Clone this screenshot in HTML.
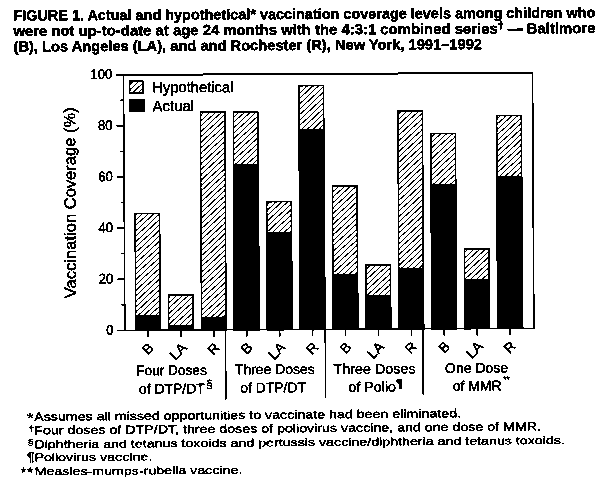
<!DOCTYPE html>
<html><head><meta charset="utf-8"><title>FIGURE 1</title>
<style>
html,body{margin:0;padding:0;background:#fff;}
body{width:615px;height:484px;overflow:hidden;}
svg{display:block;font-family:"Liberation Sans",Arial,Helvetica,sans-serif;fill:#000;}
text{stroke:#000;stroke-width:0.45px;}
.t{font-weight:bold;font-size:14.5px;stroke-width:0.5px;}
.f{font-size:11.6px;stroke-width:0.42px;}
.l{font-size:14px;}
.g{font-size:15px;}
.k{font-size:14px;}
</style></head><body>
<svg width="615" height="484" viewBox="0 0 615 484">
<defs>
<pattern id="h" width="5.8" height="5.4" patternUnits="userSpaceOnUse">
<rect width="5.8" height="5.4" fill="#fff"/>
<path d="M-1,6.331 L6.8,-0.931 M-1,0.931 L1,-0.931 M4.8,6.331 L6.8,4.469" stroke="#000" stroke-width="1.0" fill="none"/>
</pattern>
<filter id="bw" filterUnits="userSpaceOnUse" x="0" y="0" width="615" height="484" color-interpolation-filters="sRGB">
<feComponentTransfer><feFuncR type="discrete" tableValues="0 1"/><feFuncG type="discrete" tableValues="0 1"/><feFuncB type="discrete" tableValues="0 1"/></feComponentTransfer>
</filter>
</defs>
<g filter="url(#bw)">
<rect x="-10" y="-10" width="635" height="504" fill="#fff"/>
<g transform="rotate(-0.3 307.5 242)">
<text class="t" x="14.5" y="19.0" textLength="582" lengthAdjust="spacingAndGlyphs">FIGURE 1. Actual and hypothetical* vaccination coverage levels among children who</text>
<text class="t" x="14.5" y="34.55" textLength="582" lengthAdjust="spacingAndGlyphs">were not up-to-date at age 24 months with the 4:3:1 combined series<tspan style="font-size:10.5px" dy="-4.2">†</tspan><tspan dy="4.2"> — Baltimore</tspan></text>
<text class="t" x="14.5" y="50.05" textLength="468.5" lengthAdjust="spacingAndGlyphs">(B), Los Angeles (LA), and and Rochester (R), New York, 1991–1992</text>
<g stroke="#000" fill="none"><path d="M124.4,72.69999999999999 V329.4" stroke-width="1.5"/><path d="M116.9,74.0 H533.4" stroke-width="2.0"/><path d="M116.9,329.4 H534.3" stroke-width="1.3"/><path d="M533.4,73.6 V329.4" stroke-width="1.6"/><path d="M120.9,303.8 H124.4" stroke-width="1.3"/><path d="M116.9,278.2 H124.4" stroke-width="1.3"/><path d="M120.9,252.7 H124.4" stroke-width="1.3"/><path d="M116.9,227.1 H124.4" stroke-width="1.3"/><path d="M120.9,201.5 H124.4" stroke-width="1.3"/><path d="M116.9,175.9 H124.4" stroke-width="1.3"/><path d="M120.9,150.3 H124.4" stroke-width="1.3"/><path d="M116.9,124.8 H124.4" stroke-width="1.3"/><path d="M120.9,99.2 H124.4" stroke-width="1.3"/><path d="M147.5,329.4 v7.0" stroke-width="1.6"/><path d="M180.4,329.4 v7.0" stroke-width="1.6"/><path d="M213.3,329.4 v7.0" stroke-width="1.6"/><path d="M246.3,329.4 v7.0" stroke-width="1.6"/><path d="M279.2,329.4 v7.0" stroke-width="1.6"/><path d="M312.1,329.4 v7.0" stroke-width="1.6"/><path d="M345.0,329.4 v7.0" stroke-width="1.6"/><path d="M377.9,329.4 v7.0" stroke-width="1.6"/><path d="M410.9,329.4 v7.0" stroke-width="1.6"/><path d="M443.8,329.4 v7.0" stroke-width="1.6"/><path d="M476.7,329.4 v7.0" stroke-width="1.6"/><path d="M509.6,329.4 v7.0" stroke-width="1.6"/><path d="M225.0,329.4 V399.2" stroke-width="1.6"/><path d="M324.8,329.4 V398.4" stroke-width="1.6"/><path d="M422.5,329.4 V395.2" stroke-width="1.6"/></g>
<rect x="135.20" y="212.53" width="24.60" height="116.87" fill="url(#h)" stroke="#000" stroke-width="1.5"/><rect x="134.50" y="314.05" width="26.00" height="15.95" fill="#000"/>
<rect x="168.12" y="294.39" width="24.60" height="35.01" fill="url(#h)" stroke="#000" stroke-width="1.5"/><rect x="167.42" y="324.28" width="26.00" height="5.72" fill="#000"/>
<rect x="201.04" y="111.36" width="24.60" height="218.04" fill="url(#h)" stroke="#000" stroke-width="1.5"/><rect x="200.34" y="316.10" width="26.00" height="13.90" fill="#000"/>
<rect x="233.96" y="111.75" width="24.60" height="217.65" fill="url(#h)" stroke="#000" stroke-width="1.5"/><rect x="233.26" y="163.64" width="26.00" height="166.36" fill="#000"/>
<rect x="266.88" y="201.53" width="24.60" height="127.87" fill="url(#h)" stroke="#000" stroke-width="1.5"/><rect x="266.18" y="231.94" width="26.00" height="98.06" fill="#000"/>
<rect x="299.80" y="85.66" width="24.60" height="243.74" fill="url(#h)" stroke="#000" stroke-width="1.5"/><rect x="299.10" y="128.85" width="26.00" height="201.15" fill="#000"/>
<rect x="332.72" y="186.18" width="24.60" height="143.22" fill="url(#h)" stroke="#000" stroke-width="1.5"/><rect x="332.02" y="273.89" width="26.00" height="56.11" fill="#000"/>
<rect x="365.64" y="265.23" width="24.60" height="64.17" fill="url(#h)" stroke="#000" stroke-width="1.5"/><rect x="364.94" y="295.89" width="26.00" height="34.11" fill="#000"/>
<rect x="398.56" y="111.24" width="24.60" height="218.16" fill="url(#h)" stroke="#000" stroke-width="1.5"/><rect x="397.86" y="268.26" width="26.00" height="61.74" fill="#000"/>
<rect x="431.48" y="134.26" width="24.60" height="195.14" fill="url(#h)" stroke="#000" stroke-width="1.5"/><rect x="430.78" y="184.62" width="26.00" height="145.38" fill="#000"/>
<rect x="464.40" y="249.62" width="24.60" height="79.78" fill="url(#h)" stroke="#000" stroke-width="1.5"/><rect x="463.70" y="280.03" width="26.00" height="49.97" fill="#000"/>
<rect x="497.32" y="116.61" width="24.60" height="212.79" fill="url(#h)" stroke="#000" stroke-width="1.5"/><rect x="496.62" y="176.94" width="26.00" height="153.06" fill="#000"/>
<rect x="130.5" y="79.8" width="13.1" height="12.5" fill="url(#h)" stroke="#000" stroke-width="1.5"/><rect x="129.4" y="98.2" width="16.1" height="12.9" fill="#000"/><text class="g" x="153.2" y="91.7" textLength="81" lengthAdjust="spacingAndGlyphs">Hypothetical</text><text class="g" x="153.2" y="110.4">Actual</text>
<text class="k" x="105.9" y="333.6" textLength="7.3" lengthAdjust="spacingAndGlyphs">0</text><text class="k" x="98.6" y="282.4" textLength="14.6" lengthAdjust="spacingAndGlyphs">20</text><text class="k" x="98.6" y="231.3" textLength="14.6" lengthAdjust="spacingAndGlyphs">40</text><text class="k" x="98.6" y="180.1" textLength="14.6" lengthAdjust="spacingAndGlyphs">60</text><text class="k" x="98.6" y="129.0" textLength="14.6" lengthAdjust="spacingAndGlyphs">80</text><text class="k" x="91.3" y="77.8" textLength="21.9" lengthAdjust="spacingAndGlyphs">100</text><text font-size="16.4" transform="translate(75.8,201.5) rotate(-90)" text-anchor="middle" textLength="191" lengthAdjust="spacingAndGlyphs">Vaccination Coverage (%)</text>
<text class="l" font-size="13" transform="translate(154.0,348.1) rotate(-45)" text-anchor="end">B</text><text class="l" font-size="13" transform="translate(186.9,348.1) rotate(-45)" text-anchor="end">LA</text><text class="l" font-size="13" transform="translate(219.8,348.1) rotate(-45)" text-anchor="end">R</text><text class="l" font-size="13" transform="translate(252.8,348.1) rotate(-45)" text-anchor="end">B</text><text class="l" font-size="13" transform="translate(285.7,348.1) rotate(-45)" text-anchor="end">LA</text><text class="l" font-size="13" transform="translate(318.6,348.1) rotate(-45)" text-anchor="end">R</text><text class="l" font-size="13" transform="translate(351.5,348.1) rotate(-45)" text-anchor="end">B</text><text class="l" font-size="13" transform="translate(384.4,348.1) rotate(-45)" text-anchor="end">LA</text><text class="l" font-size="13" transform="translate(417.4,348.1) rotate(-45)" text-anchor="end">R</text><text class="l" font-size="13" transform="translate(450.3,348.1) rotate(-45)" text-anchor="end">B</text><text class="l" font-size="13" transform="translate(483.2,348.1) rotate(-45)" text-anchor="end">LA</text><text class="l" font-size="13" transform="translate(516.1,348.1) rotate(-45)" text-anchor="end">R</text><text class="l" x="135.5" y="374.4" textLength="70.6" lengthAdjust="spacingAndGlyphs">Four Doses</text><text class="l" x="138.2" y="392.9" textLength="65.8" lengthAdjust="spacingAndGlyphs">of DTP/DT</text><text x="205.6" y="387.4" font-size="11.5">§</text>
<text class="l" x="234.2" y="373.9" textLength="79.9" lengthAdjust="spacingAndGlyphs">Three Doses</text><text class="l" x="239.4" y="392.2" textLength="65.9" lengthAdjust="spacingAndGlyphs">of DTP/DT</text>
<text class="l" x="332.9" y="374.0" textLength="82.0" lengthAdjust="spacingAndGlyphs">Three Doses</text><text class="l" x="347.7" y="392.0" textLength="47.5" lengthAdjust="spacingAndGlyphs">of Polio</text><text x="395.6" y="387.6" font-size="12">¶</text>
<text class="l" x="444.3" y="373.6" textLength="63.2" lengthAdjust="spacingAndGlyphs">One Dose</text><text class="l" x="452.0" y="391.5" textLength="48.8" lengthAdjust="spacingAndGlyphs">of MMR</text><text x="502.3" y="383.2" font-size="8.5">**</text>
<g transform="rotate(-0.17 33.4 447)"><text class="f" style="font-size:14px" transform="translate(26.2,421.2) scale(1.228,1)">*</text><text class="f" transform="translate(33.4,419.3) scale(1.228,1)">Assumes all missed opportunities to vaccinate had been eliminated.</text>
<text class="f" style="font-size:8px" transform="translate(27.6,429.95) scale(1.228,1)">†</text><text class="f" transform="translate(33.4,432.95) scale(1.228,1)">Four doses of DTP/DT, three doses of poliovirus vaccine, and one dose of MMR.</text>
<text class="f" style="font-size:8.5px" transform="translate(26.6,443.6) scale(1.228,1)">§</text><text class="f" transform="translate(33.4,446.6) scale(1.228,1)">Diphtheria and tetanus toxoids and pertussis vaccine/diphtheria and tetanus toxoids.</text>
<text class="f" style="font-size:12px" transform="translate(25.8,460.25) scale(1.228,1)">¶</text><text class="f" transform="translate(33.4,460.25) scale(1.228,1)">Poliovirus vaccine.</text>
<text class="f" style="font-size:14px" transform="translate(19.0,475.79999999999995) scale(1.228,1)">**</text><text class="f" transform="translate(33.4,473.9) scale(1.228,1)">Measles-mumps-rubella vaccine.</text>
</g></g></g></svg></body></html>
